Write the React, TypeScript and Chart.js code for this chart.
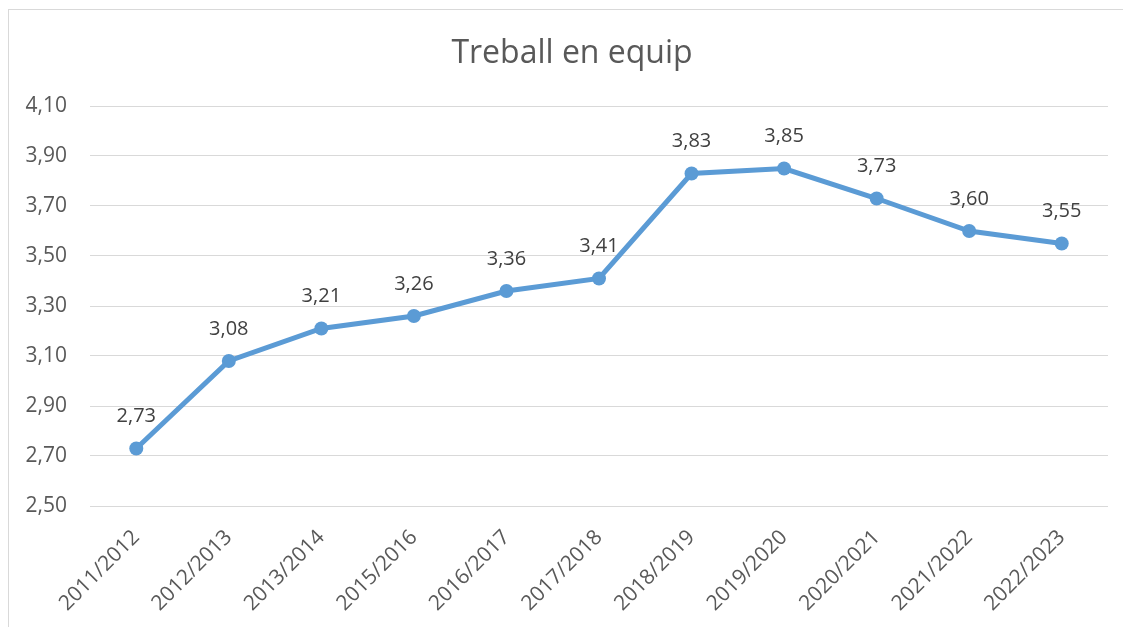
import React, { useEffect, useRef } from "react";
import { Chart, registerables } from "chart.js";

Chart.register(...registerables);

const categories = [
  "2011/2012", "2012/2013", "2013/2014", "2015/2016", "2016/2017", "2017/2018",
  "2018/2019", "2019/2020", "2020/2021", "2021/2022", "2022/2023",
];
const values = [2.73, 3.08, 3.21, 3.26, 3.36, 3.41, 3.83, 3.85, 3.73, 3.6, 3.55];
const yTicks = [2.5, 2.7, 2.9, 3.1, 3.3, 3.5, 3.7, 3.9, 4.1];
const titleText = "Treball en equip";

const FONT = "'Open Sans', Lato, sans-serif";
const fmt = (v: number) => v.toFixed(2).replace(".", ",");

const dataLabelPlugin = {
  id: "dataLabels",
  afterDatasetsDraw(chart: any) {
    const ctx = chart.ctx;
    const meta = chart.getDatasetMeta(0);
    ctx.save();
    ctx.font = `20px ${FONT}`;
    ctx.fillStyle = "#404040";
    ctx.textAlign = "center";
    ctx.textBaseline = "middle";
    meta.data.forEach((pt: any, i: number) => {
      ctx.fillText(fmt(values[i]), pt.x, pt.y - 32);
    });
    ctx.restore();
  },
};

const titlePlugin = {
  id: "centeredTitle",
  afterDraw(chart: any) {
    const ctx = chart.ctx;
    ctx.save();
    ctx.font = `32px ${FONT}`;
    ctx.fillStyle = "#595959";
    ctx.textAlign = "center";
    ctx.textBaseline = "middle";
    ctx.fillText(titleText, 572, 54);
    ctx.restore();
  },
};

export default function App() {
  const ref = useRef<HTMLCanvasElement>(null);
  useEffect(() => {
    if (!ref.current) return;
    const chart = new Chart(ref.current, {
      type: "line",
      data: {
        labels: categories,
        datasets: [
          {
            data: values,
            borderColor: "#5B9BD5",
            backgroundColor: "#5B9BD5",
            borderWidth: 5,
            pointRadius: 7,
            pointHoverRadius: 7,
            pointBackgroundColor: "#5B9BD5",
            pointBorderWidth: 0,
            tension: 0,
          },
        ],
      },
      options: {
        responsive: false,
        animation: false,
        layout: { padding: { top: 106, right: 15, bottom: 0, left: 0 } },
        plugins: {
          legend: { display: false },
          tooltip: { enabled: false },
          title: { display: false },
        },
        scales: {
          x: {
            offset: true,
            grid: { display: false },
            border: { display: false },
            ticks: {
              color: "#595959",
              font: { family: FONT, size: 21 },
              minRotation: 45,
              maxRotation: 45,
              padding: 11,
              autoSkip: false,
            },
            afterFit(scale: any) {
              scale.height = 121;
            },
          },
          y: {
            min: 2.5,
            max: 4.1,
            grid: { color: "#d9d9d9", lineWidth: 1, drawTicks: false },
            border: { display: false },
            ticks: {
              color: "#595959",
              font: { family: FONT, size: 21 },
              padding: 23,
              callback: (v: any) => fmt(Number(v)),
            },
            afterBuildTicks(scale: any) {
              scale.ticks = yTicks.map((v) => ({ value: v }));
            },
            afterFit(scale: any) {
              scale.width = 90;
            },
          },
        },
      },
      plugins: [dataLabelPlugin, titlePlugin],
    });
    return () => chart.destroy();
  }, []);

  return (
    <>
      <div
        style={{
          position: "fixed",
          left: 8,
          top: 9,
          width: 2000,
          height: 2000,
          border: "1px solid #d9d9d9",
          background: "#fff",
        }}
      />
      <canvas
        ref={ref}
        width={1123}
        height={627}
        style={{ position: "fixed", left: 0, top: 0, width: 1123, height: 627 }}
      />
    </>
  );
}
